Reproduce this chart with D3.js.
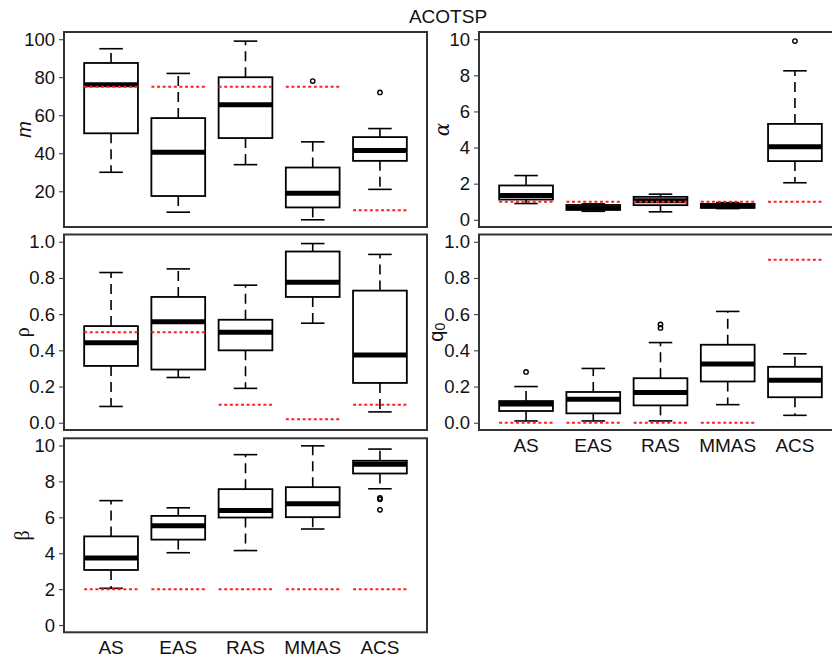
<!DOCTYPE html>
<html><head><meta charset="utf-8">
<script src="https://cdn.jsdelivr.net/npm/d3@7"></script>
<style>
body{margin:0;background:#fff;}
svg{display:block;font-family:"Liberation Sans",Arial,sans-serif;}
</style></head>
<body><svg id="c" width="832" height="659"></svg>
<script>
const categories = ["AS","EAS","RAS","MMAS","ACS"];

// [lower whisker, Q1, median, Q3, upper whisker]
const mStats = [[30,50.5,76,87.5,95],[9,17.5,40.5,58.5,82],[34,48,65.5,80,99],[5,11.5,19,32.5,46],[21,36,41.5,48.5,53]];
const mOutliers = [[],[],[],[78],[72]];
const mDefault = [75,75,75,75,10];
const mTicks = [20,40,60,80,100];

const alphaStats = [[0.9,1.12,1.35,1.9,2.45],[0.47,0.55,0.65,0.82,0.88],[0.44,0.81,1.05,1.27,1.42],[0.62,0.66,0.76,0.88,0.95],[2.05,3.25,4.04,5.31,8.25]];
const alphaOutliers = [[],[],[],[],[9.9]];
const alphaDefault = [1,1,1,1,1];
const alphaTicks = [0,2,4,6,8,10];

const rhoStats = [[0.09,0.314,0.442,0.534,0.83],[0.25,0.294,0.558,0.695,0.85],[0.19,0.40,0.50,0.569,0.76],[0.55,0.695,0.776,0.946,0.99],[0.06,0.22,0.375,0.73,0.93]];
const rhoOutliers = [[],[],[],[],[]];
const rhoDefault = [0.5,0.5,0.1,0.02,0.1];
const rhoTicks = [0,0.2,0.4,0.6,0.8,1.0];

const q0Stats = [[0.01,0.065,0.104,0.12,0.20],[0.01,0.052,0.13,0.17,0.30],[0.01,0.096,0.167,0.246,0.443],[0.10,0.228,0.324,0.431,0.615],[0.041,0.141,0.235,0.309,0.381]];
const q0Outliers = [[0.281],[],[0.524,0.543],[],[]];
const q0Default = [0,0,0,0,0.9];
const q0Ticks = [0,0.2,0.4,0.6,0.8,1.0];

const betaStats = [[2.05,3.07,3.73,4.94,6.93],[4.03,4.76,5.53,6.08,6.53],[4.15,5.99,6.38,7.57,9.49],[5.35,6.01,6.76,7.68,9.98],[7.59,8.44,8.95,9.15,9.8]];
const betaOutliers = [[],[],[],[],[7.0,7.08,6.42]];
const betaDefault = [2,2,2,2,2];
const betaTicks = [0,2,4,6,8,10];

const svg = d3.select("#c");

svg.append("text").attr("x",448).attr("y",23).attr("text-anchor","middle")
  .attr("font-size",19).attr("fill","#111").text("ACOTSP");

function panel(opt){
  const {x0,x1,y0,y1,domain,ticks,fmt,stats,outliers,defaults,xlabels,label} = opt;
  const g = svg.append("g");
  const x = d3.scaleLinear().domain([0.3,5.7]).range([x0,x1]);
  const y = d3.scaleLinear().domain(domain).range([y1,y0]);
  const unit = x(2)-x(1);
  const bw = 0.8*unit, cw = 0.35*unit;

  const ax = g.append("g").attr("transform",`translate(${x0},0)`)
    .call(d3.axisLeft(y).tickValues(ticks).tickFormat(fmt).tickSize(5).tickPadding(4));
  ax.select(".domain").remove();
  ax.selectAll(".tick line").attr("stroke","#333");
  ax.selectAll(".tick text").attr("font-size",18.5).attr("font-family","Liberation Sans, Arial, sans-serif").attr("fill","#111");

  const boxes = g.selectAll("g.box").data(stats).join("g").attr("class","box");
  boxes.each(function(s,i){
    const b = d3.select(this);
    const cx = x(i+1);
    b.append("line").attr("x1",cx).attr("x2",cx).attr("y1",y(s[3])).attr("y2",y(s[4]))
      .attr("stroke","#000").attr("stroke-width",1.6).attr("stroke-dasharray","10,6");
    b.append("line").attr("x1",cx).attr("x2",cx).attr("y1",y(s[1])).attr("y2",y(s[0]))
      .attr("stroke","#000").attr("stroke-width",1.6).attr("stroke-dasharray","10,6");
    [s[0],s[4]].forEach(v=>{
      b.append("line").attr("x1",cx-cw/2).attr("x2",cx+cw/2).attr("y1",y(v)).attr("y2",y(v))
        .attr("stroke","#000").attr("stroke-width",1.6);
    });
    b.append("rect").attr("x",cx-bw/2).attr("width",bw).attr("y",y(s[3])).attr("height",y(s[1])-y(s[3]))
      .attr("fill","#fff").attr("stroke","#000").attr("stroke-width",1.8);
    b.append("line").attr("x1",cx-bw/2).attr("x2",cx+bw/2).attr("y1",y(s[2])).attr("y2",y(s[2]))
      .attr("stroke","#000").attr("stroke-width",5);
    outliers[i].forEach(v=>{
      b.append("circle").attr("cx",cx).attr("cy",y(v)).attr("r",2.2)
        .attr("fill","none").attr("stroke","#000").attr("stroke-width",1.4);
    });
    b.append("line").attr("x1",cx-bw/2).attr("x2",cx+bw/2).attr("y1",y(defaults[i])).attr("y2",y(defaults[i]))
      .attr("stroke","#ff2020").attr("stroke-width",2).attr("stroke-dasharray","3,2.6");
  });

  g.append("rect").attr("x",x0).attr("y",y0).attr("width",x1-x0).attr("height",y1-y0)
    .attr("fill","none").attr("stroke","#333").attr("stroke-width",2);

  if(xlabels){
    g.selectAll("text.xl").data(categories).join("text").attr("class","xl")
      .attr("x",(d,i)=>x(i+1)).attr("y",y1+21.5).attr("text-anchor","middle")
      .attr("font-size",19).attr("fill","#111").text(d=>d);
  }
  label(g, (y0+y1)/2);
}

function ylab(text, xc, style){
  return (g,yc)=>{
    const t = g.append("text").attr("transform",`translate(${xc},${yc}) rotate(-90)`)
      .attr("text-anchor","middle").attr("dominant-baseline","central").attr("font-size",20).attr("fill","#111");
    if(style) style(t);
    t.text(text);
  };
}

panel({x0:64,x1:427,y0:32,y1:227,domain:[1.2,103.8],ticks:mTicks,fmt:d3.format("d"),
  stats:mStats,outliers:mOutliers,defaults:mDefault,xlabels:false,
  label:ylab("m",24,t=>t.attr("font-style","italic"))});
panel({x0:479,x1:842,y0:32,y1:227,domain:[-0.4,10.4],ticks:alphaTicks,fmt:d3.format("d"),
  stats:alphaStats,outliers:alphaOutliers,defaults:alphaDefault,xlabels:false,
  label:ylab("α",442,t=>t.attr("font-family","DejaVu Serif, serif").attr("font-style","italic"))});
panel({x0:64,x1:427,y0:234.5,y1:430,domain:[-0.04,1.04],ticks:rhoTicks,fmt:d3.format(".1f"),
  stats:rhoStats,outliers:rhoOutliers,defaults:rhoDefault,xlabels:false,
  label:ylab("ρ",22,t=>t.attr("font-family","Liberation Serif, serif"))});
panel({x0:479,x1:842,y0:234.5,y1:430,domain:[-0.04,1.04],ticks:q0Ticks,fmt:d3.format(".1f"),
  stats:q0Stats,outliers:q0Outliers,defaults:q0Default,xlabels:true,
  label:(g,yc)=>{
    const t = g.append("text").attr("transform",`translate(436,${yc}) rotate(-90)`)
      .attr("text-anchor","middle").attr("dominant-baseline","central").attr("font-size",20).attr("fill","#111");
    t.append("tspan").text("q");
    t.append("tspan").attr("font-size",14).attr("dy",4).text("0");
  }});
panel({x0:64,x1:427,y0:438.3,y1:632.3,domain:[-0.4,10.4],ticks:betaTicks,fmt:d3.format("d"),
  stats:betaStats,outliers:betaOutliers,defaults:betaDefault,xlabels:true,
  label:ylab("β",22,t=>t.attr("font-family","Liberation Serif, serif"))});
</script></body></html>
